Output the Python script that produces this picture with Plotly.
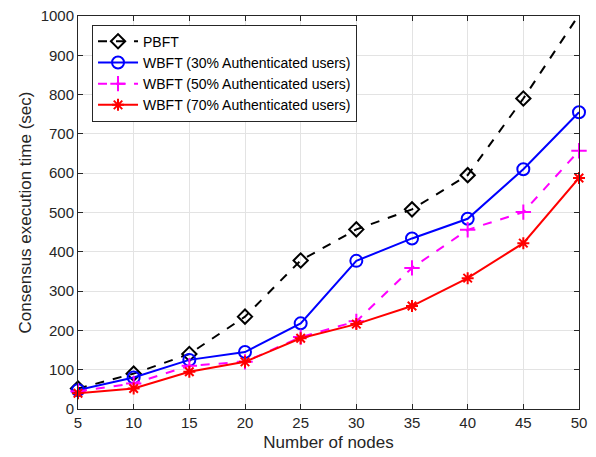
import plotly.graph_objects as go

nodes = [5, 10, 15, 20, 25, 30, 35, 40, 45, 50]
pbft = [52, 90, 140, 235, 378, 457, 508, 595, 790, 1003]
wbft30 = [48, 80, 125, 145, 218, 377, 434, 484, 610, 755]
wbft50 = [45, 65, 110, 120, 183, 223, 359, 456, 501, 657]
wbft70 = [40, 52, 95, 120, 180, 216, 262, 333, 422, 588]

names = ["PBFT", "WBFT (30% Authenticated users)", "WBFT (50% Authenticated users)",
         "WBFT (70% Authenticated users)"]

FONT = "Liberation Sans, Arial, sans-serif"

fig = go.Figure()
fig.add_trace(go.Scatter(x=nodes, y=pbft, name=names[0], mode="lines+markers",
                         line=dict(color="black", width=2, dash="dash"),
                         marker=dict(symbol="diamond-open", size=11, color="black", line=dict(width=2))))
fig.add_trace(go.Scatter(x=nodes, y=wbft30, name=names[1], mode="lines+markers",
                         line=dict(color="#0000ff", width=2),
                         marker=dict(symbol="circle-open", size=12, color="#0000ff", line=dict(width=2))))
fig.add_trace(go.Scatter(x=nodes, y=wbft50, name=names[2], mode="lines+markers",
                         line=dict(color="#ff00ff", width=2, dash="dash"),
                         marker=dict(symbol="cross-thin-open", size=11, color="#ff00ff", line=dict(width=2, color="#ff00ff"))))
fig.add_trace(go.Scatter(x=nodes, y=wbft70, name=names[3], mode="lines+markers",
                         line=dict(color="#ff0000", width=2),
                         marker=dict(symbol="asterisk-open", size=10, color="#ff0000", line=dict(width=2, color="#ff0000"))))

fig.update_traces(cliponaxis=False)

axis_common = dict(showline=True, linecolor="#262626", linewidth=1, mirror="allticks",
                   ticks="inside", ticklen=5, tickcolor="#262626",
                   showgrid=True, gridcolor="#e3e3e3", gridwidth=1, zeroline=False,
                   ticklabeloverflow="allow", automargin=False,
                   tickfont=dict(family=FONT, size=15, color="#262626"))

fig.update_xaxes(range=[5, 50], tickvals=nodes,
                 title=dict(text="Number of nodes", font=dict(family=FONT, size=17, color="#262626"), standoff=6),
                 **axis_common)
fig.update_yaxes(range=[0, 1000], dtick=100,
                 title=dict(text="Consensus execution time (sec)", font=dict(family=FONT, size=17, color="#262626"), standoff=4),
                 **axis_common)

fig.update_layout(
    width=588, height=449,
    margin=dict(l=70, r=17, t=8, b=48),
    paper_bgcolor="white", plot_bgcolor="white",
    font=dict(family=FONT, color="#262626"),
    showlegend=True,
    legend=dict(x=0.028, y=0.978, xanchor="left", yanchor="top",
                bgcolor="white", bordercolor="#262626", borderwidth=1,
                font=dict(family=FONT, size=14, color="black"), itemwidth=40,
                tracegroupgap=0),
)

fig.write_html("out.html")
